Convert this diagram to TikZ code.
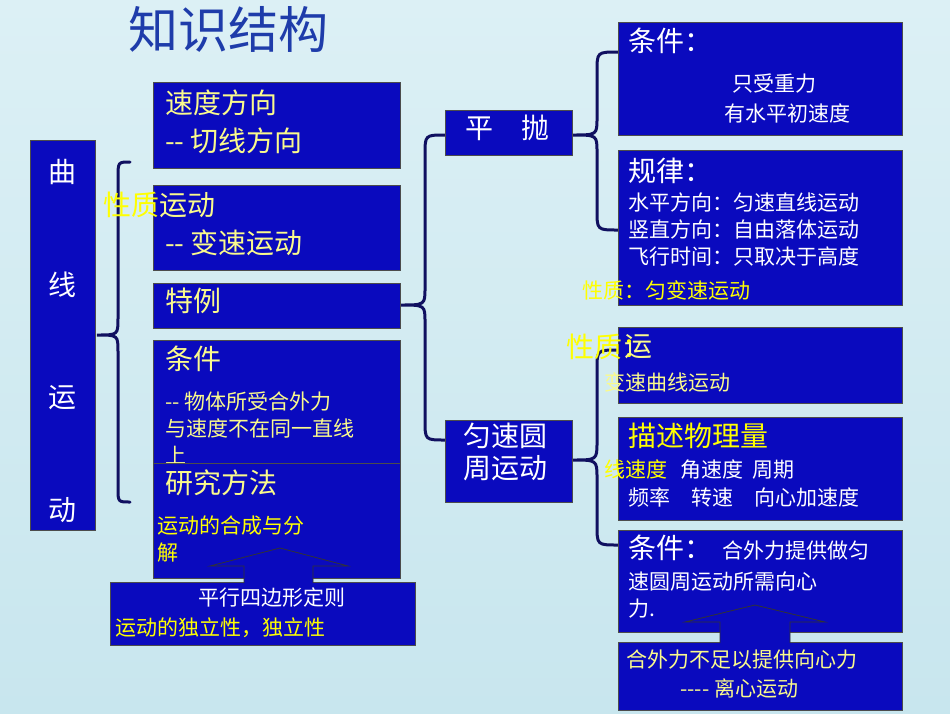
\documentclass[tikz,border=0pt]{standalone}
\usepackage{fontspec}
\setmainfont{Noto Sans CJK SC}
\begin{document}
\begin{tikzpicture}[x=1pt,y=-1pt,
  box/.style={draw=black!70,line width=1pt,fill={rgb,255:red,10;green,10;blue,190}},
  brace/.style={draw={rgb,255:red,16;green,16;blue,96},line width=3pt,line cap=round},
  big/.style={anchor=north west,inner sep=0pt,font=\fontsize{28}{32}\selectfont},
  sm/.style={anchor=north west,inner sep=0pt,font=\fontsize{21}{27}\selectfont,align=left},
  yel/.style={text={rgb,255:red,250;green,250;blue,140}},
  wh/.style={text=white},
  over/.style={text={rgb,255:red,255;green,255;blue,0}},
  arr/.style={draw=black!80,line width=0.8pt,fill={rgb,255:red,10;green,10;blue,190}}]
\fill[top color={rgb,255:red,220;green,240;blue,245},bottom color={rgb,255:red,200;green,230;blue,238}] (0,0) rectangle (950,713);
\useasboundingbox (0,0) rectangle (950,713);
\node[anchor=north west,inner sep=0pt,text={rgb,255:red,30;green,60;blue,170},font=\fontsize{50}{54}\selectfont] (title) at (128,6) {知识结构};
% braces
\draw[brace] (130,162) .. controls (118,162) .. (118,178) -- (118,318) .. controls (118,335) .. (97,335) .. controls (118,335) .. (118,352) -- (118,488) .. controls (118,502) .. (130,502);
\draw[brace] (445,135) .. controls (425,135) .. (425,155) -- (425,288) .. controls (425,305) .. (400,305) .. controls (425,305) .. (425,322) -- (425,420) .. controls (425,440) .. (445,440);
\draw[brace] (618,52) .. controls (597,52) .. (597,72) -- (597,118) .. controls (597,135) .. (572,135) .. controls (597,135) .. (597,152) -- (597,210) .. controls (597,230) .. (618,230);
\draw[brace] (618,350) .. controls (597,350) .. (597,370) -- (597,442) .. controls (597,460) .. (572,460) .. controls (597,460) .. (597,478) -- (597,525) .. controls (597,545) .. (618,545);
% boxes
\node[box,minimum width=65pt,minimum height=390pt,anchor=north west] (qx) at (30,140) {};
\node[big,wh,anchor=center] at (62,172) {曲};
\node[big,wh,anchor=center] at (62,285) {线};
\node[big,wh,anchor=center] at (62,398) {运};
\node[big,wh,anchor=center] at (62,510) {动};
\node[box,minimum width=247pt,minimum height=86pt,anchor=north west] (sd) at (153,82) {};
\node[big,yel] at (165,90) {速度方向};
\node[big,yel] at (165,128) {{-}{-} 切线方向};
\node[box,minimum width=247pt,minimum height=85pt,anchor=north west] (xz) at (153,185) {};
\node[big,over] at (103,192) {性质};
\node[big,yel] at (159,192) {运动};
\node[big,yel] at (165,230) {{-}{-} 变速运动};
\node[box,minimum width=247pt,minimum height=45pt,anchor=north west] (tl) at (153,283) {};
\node[big,yel] at (165,288) {特例};
\node[box,minimum width=247pt,minimum height=125pt,anchor=north west] (tj) at (153,340) {};
\node[big,yel] at (165,346) {条件};
\node[sm,yel] at (165,392) {{-}{-} 物体所受合外力\\与速度不在同一直线\\上};
\node[box,minimum width=247pt,minimum height=115pt,anchor=north west] (yj) at (153,463) {};
\node[big,yel] at (165,470) {研究方法};
\node[sm,over] at (157,516) {运动的合成与分\\解};
\node[box,minimum width=305pt,minimum height=63pt,anchor=north west] (px) at (110,582) {};
\node[sm,wh] at (198,588) {平行四边形定则};
\node[sm,over] at (115,618) {运动的独立性，独立性};
\draw[arr] (244,583) -- (244,566) -- (210,566) -- (280,548) -- (348,566) -- (313,566) -- (313,583);
\node[box,minimum width=127pt,minimum height=45pt,anchor=north west] (pp) at (445,110) {};
\node[big,wh] at (465,115) {平\quad 抛};
\node[box,minimum width=127pt,minimum height=82pt,anchor=north west] (yy) at (445,420) {};
\node[big,wh,align=left] at (463,423) {匀速圆\\周运动};
\node[box,minimum width=284pt,minimum height=113pt,anchor=north west] (tj2) at (618,22) {};
\node[big,wh] at (628,28) {条件：};
\node[sm,wh] at (732,74) {只受重力};
\node[sm,wh] at (724,104) {有水平初速度};
\node[box,minimum width=284pt,minimum height=155pt,anchor=north west] (gl) at (618,150) {};
\node[big,wh] at (628,158) {规律：};
\node[sm,wh] at (628,193) {水平方向：匀速直线运动\\竖直方向：自由落体运动\\飞行时间：只取决于高度};
\node[sm,over] at (582,280) {性质：匀变速运动};
\node[box,minimum width=284pt,minimum height=76pt,anchor=north west] (xz2) at (618,327) {};
\node[big,over] at (566,334) {性质：};
\node[big,yel] at (624,334) {运};
\node[sm,yel] at (604,372) {变速曲线运动};
\node[box,minimum width=284pt,minimum height=103pt,anchor=north west] (ms) at (618,417) {};
\node[big,over] at (628,423) {描述物理量};
\node[sm,over] at (604,460) {线速度};
\node[sm,wh] at (680,460) {角速度\ \ 周期};
\node[sm,wh] at (628,488) {频率\quad 转速\quad 向心加速度};
\node[box,minimum width=284pt,minimum height=102pt,anchor=north west] (tj3) at (618,530) {};
\node[big,wh] at (628,535) {条件：};
\node[sm,wh] at (722,541) {合外力提供做匀};
\node[sm,wh] at (628,572) {速圆周运动所需向心\\力.};
\node[box,minimum width=284pt,minimum height=68pt,anchor=north west] (lx) at (618,642) {};
\node[sm,yel] at (626,650) {合外力不足以提供向心力};
\node[sm,yel] at (680,678) {{-}{-}{-}{-} 离心运动};
\draw[arr] (720,643) -- (720,622) -- (685,622) -- (755,605) -- (825,622) -- (790,622) -- (790,643);
\end{tikzpicture}
\end{document}
